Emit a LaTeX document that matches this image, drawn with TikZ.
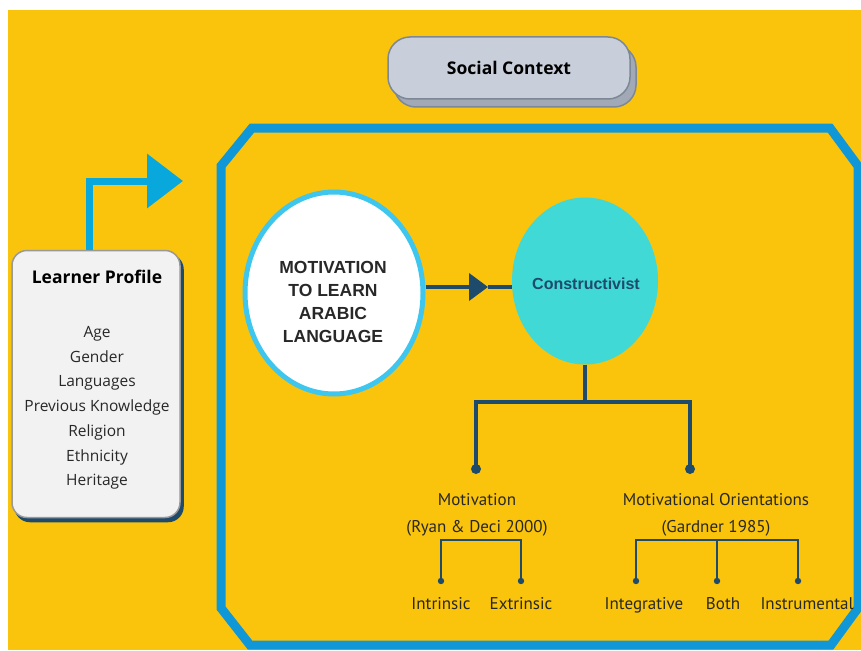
\documentclass[tikz,border=0pt]{standalone}
\usepackage{fontspec}
\setmainfont{Open Sans}
\newfontfamily\labelfont{PT Sans}
\newfontfamily\headfont{Liberation Sans}
\usetikzlibrary{positioning,shapes.geometric,arrows.meta,shadows}

\definecolor{gold}{RGB}{250,195,12}
\definecolor{frameblue}{RGB}{15,151,216}
\definecolor{arrowblue}{RGB}{8,168,220}
\definecolor{navy}{RGB}{30,74,108}
\definecolor{turq}{RGB}{64,217,214}
\definecolor{ringblue}{RGB}{62,198,238}
\definecolor{slate}{RGB}{200,207,218}
\definecolor{slatedark}{RGB}{160,169,181}
\definecolor{slateline}{RGB}{125,136,150}
\definecolor{paper}{RGB}{242,242,242}
\definecolor{ink}{RGB}{40,40,40}

\tikzset{
	frame/.style={draw=frameblue, line width=9pt, line join=miter},
	ctxbox/.style={draw=slateline, line width=1.5pt, fill=slate, rounded corners=22pt,
		minimum width=242pt, minimum height=62pt,
		copy shadow={shadow xshift=6pt, shadow yshift=-8pt, fill=slatedark, draw=slateline}},
	profbox/.style={draw=gray!80, line width=1.5pt, fill=paper, rounded corners=15pt,
		minimum width=168pt, minimum height=267pt,
		copy shadow={shadow xshift=3pt, shadow yshift=-4pt, fill=navy, draw=navy}},
	motell/.style={ellipse, draw=ringblue, line width=5pt, fill=white,
		minimum width=178pt, minimum height=202pt},
	consell/.style={ellipse, fill=turq, minimum width=146pt, minimum height=167pt},
	tree/.style={draw=navy, line width=3.5pt},
	subtree/.style={draw=navy, line width=2pt},
	leaf/.style={font=\labelfont\fontsize{17}{20}\selectfont, text=ink, inner sep=0pt,
		text height=12pt, text depth=4pt},
}

\begin{document}
\begin{tikzpicture}[x=1pt, y=-1pt]
	\useasboundingbox (0,0) rectangle (861,650);
	\fill [gold] (8,10) rectangle (861,650);

	\draw [frame] (252,128) -- (830,128) -- (858,166) -- (858,608) -- (831,645)
		-- (250,645) -- (221,608) -- (221,166) -- cycle;

	\node [ctxbox] (ctx) at (509,68) {};
	\node [font=\bfseries\fontsize{17.5}{20}\selectfont] at (ctx) {Social Context};

	\node [profbox] (prof) at (96,384) {};
	\node [font=\bfseries\fontsize{17.5}{20}\selectfont] (ptitle) at (97,277) {Learner Profile};
	\node [font=\fontsize{15.5}{24.7}\selectfont, text=ink, align=center] (pitems) at (97,408)
		{Age\\Gender\\Languages\\Previous Knowledge\\Religion\\Ethnicity\\Heritage};

	\coordinate (ptip) at (183,181);
	\draw [arrowblue, line width=7pt, -{Triangle[length=36pt, width=53pt]}]
		([xshift=-7pt]prof.north) |- (ptip);

	\node [motell] (mot) at (334,293) {};
	\node [font=\headfont\bfseries\fontsize{17.5}{23.3}\selectfont, text=ink, align=center] at (333,302)
		{MOTIVATION\\TO LEARN\\ARABIC\\LANGUAGE};

	\node [consell] (cons) at (585,281) {};
	\node [font=\headfont\bfseries\fontsize{16}{18}\selectfont, text=navy] at (586,284) {Constructivist};

	\coordinate (amid) at (488,287);
	\draw [navy, line width=4pt, -{Triangle[length=19pt, width=27pt]}] (mot.east |- amid) -- (amid);
	\draw [navy, line width=4pt] (amid) -- (amid -| cons.west);

	\coordinate (fork) at (585,402);
	\coordinate (d1) at (476,469);
	\coordinate (d2) at (690,469);
	\draw [tree] (cons.south) -- (fork);
	\draw [tree] (d1) |- (fork) -| (d2);
	\fill [navy] (d1) circle (5) (d2) circle (5);

	\node [font=\labelfont\fontsize{17}{27}\selectfont, text=ink, align=center] (motlab) at (477,515)
		{Motivation\\(Ryan \& Deci 2000)};
	\node [font=\labelfont\fontsize{17}{27}\selectfont, text=ink, align=center] (orilab) at (716,515)
		{Motivational Orientations\\(Gardner 1985)};

	\coordinate (mf) at (481,540);
	\coordinate (m1) at (441,581);
	\coordinate (m2) at (521,581);
	\draw [subtree] (m1) |- (mf) -| (m2);
	\fill [navy] (m1) circle (3.2) (m2) circle (3.2);

	\coordinate (of) at (717,540);
	\coordinate (o1) at (636,581);
	\coordinate (o2) at (717,581);
	\coordinate (o3) at (798,581);
	\draw [subtree] (o1) |- (of) -| (o3);
	\draw [subtree] (of) -- (o2);
	\fill [navy] (o1) circle (3.2) (o2) circle (3.2) (o3) circle (3.2);

	\node [leaf, below=16pt of m1] (intr) {Intrinsic};
	\node [leaf, below=16pt of m2] (extr) {Extrinsic};
	\node [leaf, below=16pt of o1, xshift=8pt] (integ) {Integrative};
	\node [leaf, below=16pt of o2, xshift=6pt] (both) {Both};
	\node [leaf, below=16pt of o3, xshift=9pt] (instr) {Instrumental};
\end{tikzpicture}
\end{document}
